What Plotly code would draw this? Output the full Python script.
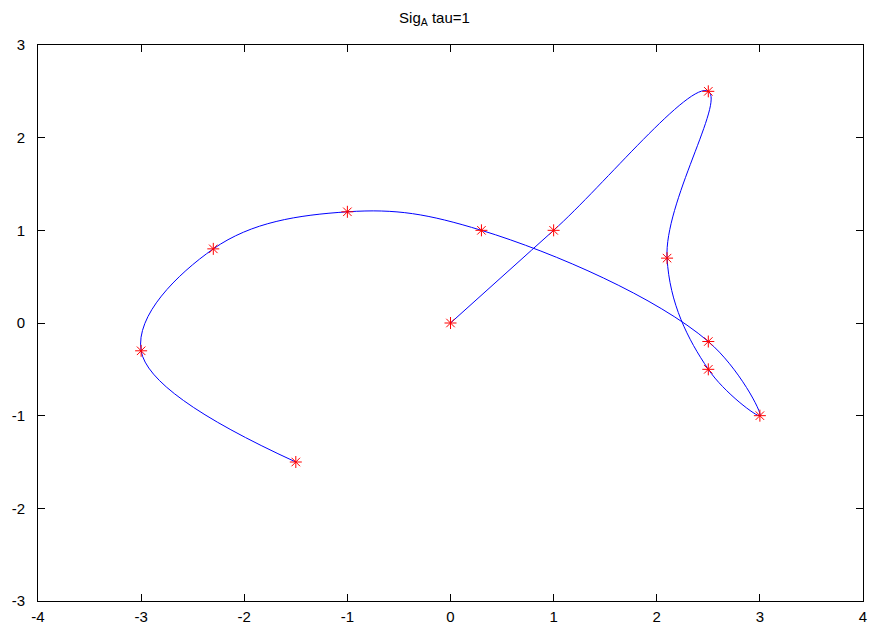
import plotly.graph_objects as go

x_vals = [0, 1, 2.5, 2.1, 2.5, 3, 2.5, 0.3, -1, -2.3, -3, -1.5]
y_vals = [0, 1, 2.5, 0.7, -0.5, -1, -0.2, 1, 1.2, 0.8, -0.3, -1.5]
x_ticks = [-4, -3, -2, -1, 0, 1, 2, 3, 4]
y_ticks = [-3, -2, -1, 0, 1, 2, 3]
title_text = "Sig<sub>A</sub> tau=1"

fig = go.Figure()
fig.add_trace(go.Scatter(x=x_vals, y=y_vals, mode="lines",
                         line=dict(color="#0000ff", width=1, shape="spline", smoothing=1.1),
                         showlegend=False, hoverinfo="skip"))
fig.add_trace(go.Scatter(x=x_vals, y=y_vals, mode="markers",
                         marker=dict(symbol="asterisk-open", size=10, color="#ff0000",
                                     line=dict(color="#ff0000", width=1)),
                         showlegend=False))

axis_common = dict(showline=True, linecolor="black", linewidth=1, mirror="ticks",
                   ticks="inside", ticklen=7, tickcolor="black", tickwidth=1,
                   showgrid=False, zeroline=False, automargin=False,
                   tickfont=dict(family="Liberation Sans, Arial", size=15, color="black"))
fig.update_xaxes(range=[-4, 4], tickvals=x_ticks, ticktext=[str(v) for v in x_ticks],
                 ticklabelstandoff=2, **axis_common)
fig.update_yaxes(range=[-3, 3], tickvals=y_ticks, ticktext=[str(v) for v in y_ticks],
                 ticklabelstandoff=9, **axis_common)

fig.update_layout(width=869, height=632,
                  margin=dict(l=38, r=6, t=45, b=31),
                  plot_bgcolor="white", paper_bgcolor="white",
                  title=dict(text=title_text, x=0.5, xanchor="center", y=1 - 18 / 632, yanchor="middle",
                             font=dict(family="Liberation Sans, Arial", size=15, color="black")))

fig.write_html("out.html", config={"displayModeBar": False})

with open("out.html", "r", encoding="utf-8") as f:
    html = f.read()
html = html.replace("<head>", "<head><style>html,body{margin:0;padding:0;overflow:hidden;}</style>", 1)
with open("out.html", "w", encoding="utf-8") as f:
    f.write(html)
